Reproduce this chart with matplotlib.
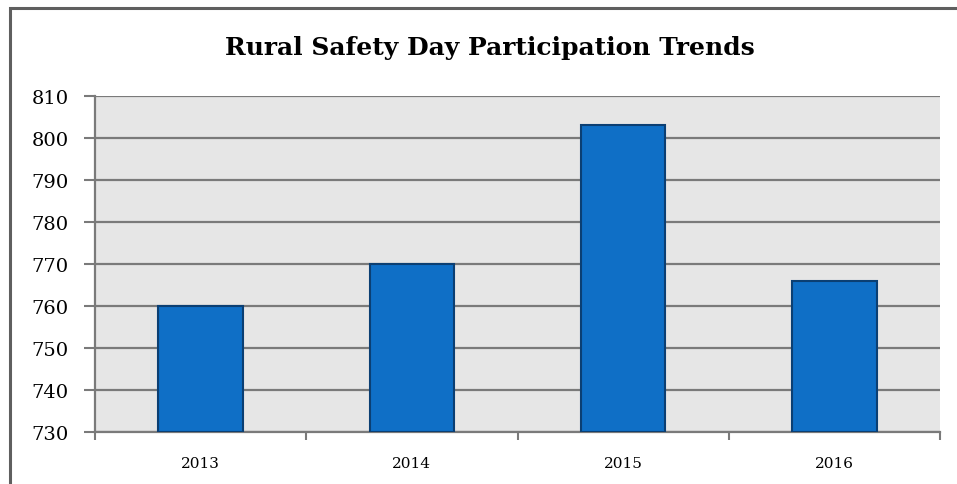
import matplotlib
matplotlib.use("Agg")
import matplotlib.pyplot as plt
from matplotlib.patches import Rectangle

years = ["2013", "2014", "2015", "2016"]
participants = [760, 770, 803, 766]
y_ticks = [730, 740, 750, 760, 770, 780, 790, 800, 810]
title = "Rural Safety Day Participation Trends"

W, H = 957, 485
fig = plt.figure(figsize=(W / 100, H / 100), dpi=100)
fig.patch.set_facecolor("white")

# outer chart border (top and left visible)
fig.patches.append(Rectangle((9.5 / W, -0.05), 1.2, 1 - 8.5 / H + 0.05,
                             transform=fig.transFigure, fill=False,
                             edgecolor="#5f5f5f", linewidth=2.2))

left, right, top, bottom = 95, 940, 97, 433
ax = fig.add_axes([left / W, 1 - bottom / H, (right - left) / W, (bottom - top) / H])
ax.set_facecolor("#e6e6e6")

x = list(range(len(years)))
ax.bar(x, [p - y_ticks[0] for p in participants], bottom=y_ticks[0], width=0.4,
       color="#0f6fc6", edgecolor="#0b3f73", linewidth=1.5, zorder=3)

ax.set_xlim(-0.5, len(years) - 0.5)
ax.set_ylim(y_ticks[0], y_ticks[-1])
ax.set_yticks(y_ticks)
ax.set_yticklabels([str(v) for v in y_ticks], fontsize=14, family="DejaVu Serif")
ax.yaxis.grid(True, color="#7a7a7a", linewidth=1.6, zorder=1)
ax.set_axisbelow(True)

ax.set_xticks(x)
ax.set_xticklabels(years, fontsize=11, family="DejaVu Serif")
ax.tick_params(axis="x", length=0, pad=17)
ax.set_xticks([i - 0.5 for i in range(len(years) + 1)], minor=True)
ax.tick_params(axis="x", which="minor", length=6, width=1.5, color="#7a7a7a")
ax.tick_params(axis="y", length=8, width=1.5, color="#7a7a7a", pad=11)

for s in ["top", "right"]:
    ax.spines[s].set_visible(False)
for s in ["left", "bottom"]:
    ax.spines[s].set_color("#7a7a7a")
    ax.spines[s].set_linewidth(1.6)

fig.text(490 / W, 1 - 48 / H, title, ha="center", va="center",
         fontsize=18, fontweight="bold", family="DejaVu Serif")

fig.savefig("out.png", dpi=100)
